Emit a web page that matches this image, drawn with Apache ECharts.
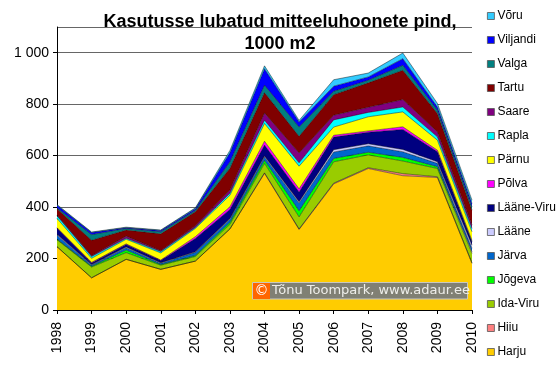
<!DOCTYPE html>
<html>
<head>
<meta charset="utf-8">
<script src="https://cdn.jsdelivr.net/npm/echarts@6/dist/echarts.min.js"></script>
<style>html,body{margin:0;padding:0;background:#fff;}#c{width:560px;height:365px;}</style>
</head>
<body>
<div id="c"></div>
<script>
const years = ['1998','1999','2000','2001','2002','2003','2004','2005','2006','2007','2008','2009','2010'];
const yTicks = [0, 200, 400, 600, 800, 1000];
const seriesNames = ['Harju','Hiiu','Ida-Viru','Jõgeva','Järva','Lääne','Lääne-Viru','Põlva','Pärnu','Rapla','Saare','Tartu','Valga','Viljandi','Võru'];
const seriesColors = ['#FFCC00','#FF8080','#99CC00','#00FF00','#0066CC','#CCCCFF','#000080','#FF00FF','#FFFF00','#00FFFF','#800080','#800000','#008080','#0000FF','#33CCFF'];

const harju     = [246,125,197,158,190,315,531,313,490,550,522,515,181];
const hiiu      = [0,0,0,0,0,0,2,2,3,3,8,3,2];
const idaViru   = [27,42,26,16,18,18,37,47,83,50,49,32,37];
const jogeva    = [3,3,10,3,4,8,12,24,13,10,14,7,6];
const jarva     = [15,5,9,5,12,12,13,30,25,25,22,13,14];
const laane     = [3,2,3,2,2,3,4,5,9,8,9,6,12];
const laaneViru = [24,6,10,8,52,35,42,38,49,45,78,39,13];
const polva     = [2,2,2,2,7,10,15,12,7,5,10,6,5];
const parnu     = [36,16,18,28,32,45,69,88,32,55,58,39,34];
const rapla     = [10,7,4,5,4,8,13,13,28,17,19,13,13];
const saare     = [3,3,8,3,6,12,28,38,18,20,29,19,13];
const tartu     = [25,60,24,66,55,85,79,65,80,95,114,72,58];
const valga     = [3,22,6,8,6,25,29,36,13,10,19,13,13];
const viljandi  = [10,8,3,5,6,35,64,20,20,13,26,12,13];
const voru      = [3,2,2,2,3,9,11,6,25,15,22,14,13];

const values = [harju,hiiu,idaViru,jogeva,jarva,laane,laaneViru,polva,parnu,rapla,saare,tartu,valga,viljandi,voru];

const chart = echarts.init(document.getElementById('c'), null, {renderer:'canvas'});
const series = seriesNames.map((n,i)=>({
  name:n, type:'line', stack:'total', data:values[i], symbol:'none', smooth:false,
  lineStyle:{width:0.8,color:'rgba(0,0,0,0.55)'},
  areaStyle:{color:seriesColors[i],opacity:1},
  itemStyle:{color:seriesColors[i]},
  emphasis:{disabled:true}
}));

chart.setOption({
  animation:false,
  backgroundColor:'#fff',
  title:{
    text:'Kasutusse lubatud mitteeluhoonete pind,\n1000 m2',
    left:'center', top:6,
    textStyle:{fontFamily:'Liberation Sans, Arial, sans-serif',fontSize:18,fontWeight:'bold',color:'#000',lineHeight:22}
  },
  legend:{
    orient:'vertical', left:487, top:9, padding:0,
    data:seriesNames.slice().reverse(),
    icon:'rect', itemWidth:7, itemHeight:7, itemGap:10,
    itemStyle:{borderColor:'#555',borderWidth:0.8},
    textStyle:{fontFamily:'Liberation Sans, Arial, sans-serif',fontSize:12,color:'#000',lineHeight:14,padding:[0,0,0,-2]}
  },
  grid:{left:57,right:88,top:27,bottom:55},
  xAxis:{
    type:'category', data:years, boundaryGap:false,
    axisLine:{lineStyle:{color:'#000',width:1}},
    axisTick:{show:true,length:4,lineStyle:{color:'#000'}},
    axisLabel:{rotate:90,fontFamily:'Liberation Sans, Arial, sans-serif',fontSize:14,color:'#000',margin:12},
    splitLine:{show:false}
  },
  yAxis:{
    type:'value', min:0, max:1100, interval:200,
    axisLine:{show:true,lineStyle:{color:'#000',width:1}},
    axisTick:{show:true,length:4,lineStyle:{color:'#000'}},
    axisLabel:{showMaxLabel:false,fontFamily:'Liberation Sans, Arial, sans-serif',fontSize:14,color:'#000',margin:8,
      formatter:v=> yTicks.indexOf(v)>=0 ? (v>=1000 ? String(v).replace(/(\d)(\d{3})$/,'$1 $2') : String(v)) : ''},
    splitLine:{show:true,lineStyle:{color:'#666',width:1}}
  },
  series:series,
  graphic:[
    {type:'rect',shape:{x:252.5,y:282.5,width:215,height:16.5},style:{fill:'#808074',stroke:'#c8c8c0',lineWidth:1},z:100},
    {type:'rect',shape:{x:253,y:283,width:17,height:16},style:{fill:'#FF6600'},z:101},
    {type:'text',style:{text:'©',x:261.5,y:291,align:'center',verticalAlign:'middle',fontFamily:'DejaVu Sans',fontSize:14,fill:'#fff'},z:102},
    {type:'text',style:{text:'Tõnu Toompark, www.adaur.ee',x:272,y:291,verticalAlign:'middle',fontFamily:'DejaVu Sans',fontSize:13,fill:'#eeeeea'},z:102}
  ]
});
</script>
</body>
</html>
